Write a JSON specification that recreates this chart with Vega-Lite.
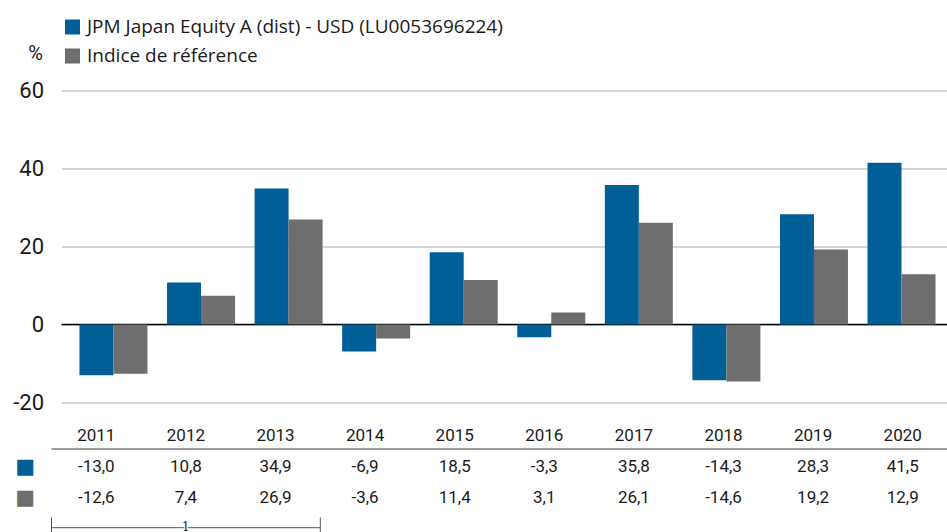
{
  "$schema": "https://vega.github.io/schema/vega-lite/v6.json",
  "background": "white",
  "padding": {"left": 12.5, "top": 17.5, "right": 0, "bottom": 0},
  "spacing": 2,
  "config": {
    "font": "Roboto",
    "view": {"stroke": null},
    "locale": {"number": {"decimal": ",", "thousands": ".", "grouping": [3], "currency": ["", " €"], "minus": "-"}},
    "axis": {"labelColor": "#1a1a1a", "titleColor": "#1a1a1a"}
  },
  "data": {
    "values": [
      {"year": "2011", "series": "JPM Japan Equity A (dist) - USD (LU0053696224)", "value": -13.0},
      {"year": "2011", "series": "Indice de référence", "value": -12.6},
      {"year": "2012", "series": "JPM Japan Equity A (dist) - USD (LU0053696224)", "value": 10.8},
      {"year": "2012", "series": "Indice de référence", "value": 7.4},
      {"year": "2013", "series": "JPM Japan Equity A (dist) - USD (LU0053696224)", "value": 34.9},
      {"year": "2013", "series": "Indice de référence", "value": 26.9},
      {"year": "2014", "series": "JPM Japan Equity A (dist) - USD (LU0053696224)", "value": -6.9},
      {"year": "2014", "series": "Indice de référence", "value": -3.6},
      {"year": "2015", "series": "JPM Japan Equity A (dist) - USD (LU0053696224)", "value": 18.5},
      {"year": "2015", "series": "Indice de référence", "value": 11.4},
      {"year": "2016", "series": "JPM Japan Equity A (dist) - USD (LU0053696224)", "value": -3.3},
      {"year": "2016", "series": "Indice de référence", "value": 3.1},
      {"year": "2017", "series": "JPM Japan Equity A (dist) - USD (LU0053696224)", "value": 35.8},
      {"year": "2017", "series": "Indice de référence", "value": 26.1},
      {"year": "2018", "series": "JPM Japan Equity A (dist) - USD (LU0053696224)", "value": -14.3},
      {"year": "2018", "series": "Indice de référence", "value": -14.6},
      {"year": "2019", "series": "JPM Japan Equity A (dist) - USD (LU0053696224)", "value": 28.3},
      {"year": "2019", "series": "Indice de référence", "value": 19.2},
      {"year": "2020", "series": "JPM Japan Equity A (dist) - USD (LU0053696224)", "value": 41.5},
      {"year": "2020", "series": "Indice de référence", "value": 12.9}
    ]
  },
  "resolve": {"scale": {"color": "independent"}},
  "vconcat": [
    {
      "width": 886,
      "height": 312,
      "layer": [
        {
          "transform": [{"filter": "datum.year == '2011' && datum.value < -12.8"}],
          "mark": {"type": "rule", "color": "#000000", "strokeWidth": 1.5},
          "encoding": {"y": {"datum": 0, "type": "quantitative"}}
        },
        {
          "mark": {"type": "bar"},
          "encoding": {
            "x": {"field": "year", "type": "nominal", "axis": null,
                  "scale": {"type": "band", "paddingInner": 0.2234, "paddingOuter": 0.171, "align": 0.6}},
            "xOffset": {"field": "series", "type": "nominal",
                        "sort": ["JPM Japan Equity A (dist) - USD (LU0053696224)", "Indice de référence"],
                        "scale": {"paddingInner": 0, "paddingOuter": 0}},
            "y": {"field": "value", "type": "quantitative",
                  "scale": {"domain": [-20, 60], "nice": false, "zero": false},
                  "axis": {"values": [-20, 0, 20, 40, 60], "title": "%", "titleAngle": 0, "titleAlign": "right",
                           "titleBaseline": "middle", "titleX": -19, "titleY": -37, "titleFontSize": 20,
                           "titleFontWeight": "normal", "labelFontSize": 22, "labelPadding": 18,
                           "ticks": false, "domain": false, "grid": true, "gridColor": "#c8c8c8", "gridWidth": 1.5}},
            "color": {"field": "series", "type": "nominal",
                      "scale": {"domain": ["JPM Japan Equity A (dist) - USD (LU0053696224)", "Indice de référence"],
                                "range": ["#005F97", "#6E6E6E"]},
                      "legend": {"title": null, "orient": "none", "legendX": 1.5, "legendY": -73, "direction": "vertical",
                                 "symbolType": "square", "symbolSize": 225, "symbolStrokeWidth": 0,
                                 "labelFont": "Open Sans", "labelFontSize": 19, "labelColor": "#1a1a1a", "labelOffset": 5,
                                 "rowPadding": 9, "labelLimit": 0}}
          }
        }
      ]
    },
    {
      "width": 886,
      "height": 98.5,
      "layer": [
        {
          "transform": [{"filter": "datum.series == 'Indice de référence'"}],
          "mark": {"type": "text", "fontSize": 17, "color": "#1a1a1a"},
          "encoding": {
            "x": {"field": "year", "type": "nominal", "bandPosition": 0.5, "axis": null,
                  "scale": {"type": "band", "range": [-10, 886], "paddingInner": 0, "paddingOuter": 0}},
            "y": {"datum": "years", "type": "nominal", "bandPosition": 0.5},
            "text": {"field": "year"}
          }
        },
        {
          "transform": [{"filter": "datum.year == '2011' && datum.value < -12.8"}],
          "mark": {"type": "rule", "color": "#7a7a7a", "strokeWidth": 1.5},
          "encoding": {
            "x": {"datum": "2011", "type": "nominal", "bandPosition": 0},
            "x2": {"datum": "2020", "bandPosition": 1},
            "y": {"datum": "years", "type": "nominal", "bandPosition": 0.92}
          }
        },
        {
          "mark": {"type": "text", "fontSize": 17, "color": "#1a1a1a"},
          "encoding": {
            "x": {"field": "year", "type": "nominal", "bandPosition": 0.5},
            "y": {"field": "series", "type": "nominal", "bandPosition": 0.5,
                  "scale": {"type": "band", "domain": ["years", "JPM Japan Equity A (dist) - USD (LU0053696224)", "Indice de référence"],
                            "paddingInner": 0, "paddingOuter": 0.0887, "align": 0.909},
                  "axis": {"title": null, "labelExpr": "datum.value == 'years' ? '' : '■'", "labelFont": "DejaVu Sans",
                           "labelFontSize": 21, "labelBaseline": "middle",
                           "labelColor": {"condition": {"test": "datum.value == 'Indice de référence'", "value": "#6E6E6E"}, "value": "#005F97"},
                           "ticks": false, "domain": false, "grid": false, "labelPadding": 27}},
            "text": {"field": "value", "type": "quantitative", "format": ".1f"}
          }
        }
      ]
    },
    {
      "width": 886,
      "height": 17,
      "transform": [{"filter": "datum.year == '2011' && datum.value < -12.8"}],
      "layer": [
        {
          "mark": {"type": "rule", "color": "#555555", "strokeWidth": 1},
          "encoding": {
            "x": {"datum": "2011", "type": "nominal", "bandPosition": 0, "axis": null,
                  "scale": {"type": "band", "domain": ["2011", "2012", "2013", "2014", "2015", "2016", "2017", "2018", "2019", "2020"],
                            "range": [-10, 886], "paddingInner": 0, "paddingOuter": 0}},
            "x2": {"datum": "2013", "bandPosition": 1},
            "y": {"datum": "b", "type": "nominal", "scale": {"type": "point", "align": 0.6}, "axis": null}
          }
        },
        {
          "mark": {"type": "rule", "color": "#555555", "strokeWidth": 1},
          "encoding": {"x": {"datum": "2011", "type": "nominal", "bandPosition": 0}}
        },
        {
          "mark": {"type": "rule", "color": "#555555", "strokeWidth": 1},
          "encoding": {"x": {"datum": "2013", "type": "nominal", "bandPosition": 1}}
        },
        {
          "mark": {"type": "text", "font": "DejaVu Serif", "fontSize": 12, "dy": -1, "stroke": "white", "strokeWidth": 2.5, "fill": "white"},
          "encoding": {"x": {"datum": "2012", "type": "nominal", "bandPosition": 0.5}, "y": {"datum": "b", "type": "nominal"}, "text": {"value": "1"}}
        },
        {
          "mark": {"type": "text", "font": "DejaVu Serif", "fontSize": 12, "dy": -1, "color": "#222222"},
          "encoding": {"x": {"datum": "2012", "type": "nominal", "bandPosition": 0.5}, "y": {"datum": "b", "type": "nominal"}, "text": {"value": "1"}}
        }
      ]
    }
  ]
}
